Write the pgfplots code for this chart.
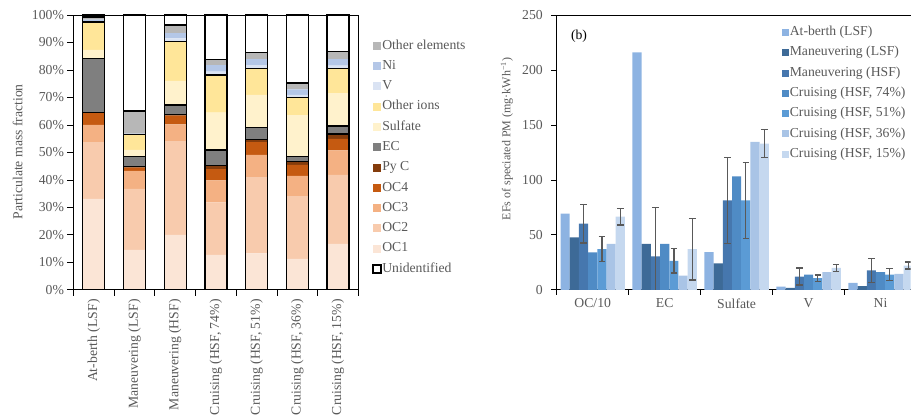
\documentclass[border=0pt]{standalone}
\usepackage{pgfplots}
\pgfplotsset{compat=1.18}
\usepackage{pgfplotstable}
\usepackage{fontspec}
\setmainfont{Liberation Serif}
\newcommand\fontA{\fontsize{13.7}{16}\selectfont}
\newcommand\fontB{\fontsize{12}{14}\selectfont}
\definecolor{txt}{HTML}{595959}
\definecolor{cOCa}{HTML}{FBE5D6}
\definecolor{cOCb}{HTML}{F8CBAD}
\definecolor{cOCc}{HTML}{F4B183}
\definecolor{cOCd}{HTML}{C55A11}
\definecolor{cPyC}{HTML}{843C0C}
\definecolor{cEC}{HTML}{7F7F7F}
\definecolor{cSul}{HTML}{FFF2CC}
\definecolor{cIon}{HTML}{FFE699}
\definecolor{cV}{HTML}{DAE3F3}
\definecolor{cNi}{HTML}{B4C7E7}
\definecolor{cOth}{HTML}{B7B7B7}
\definecolor{bA}{HTML}{8DB3E2}
\definecolor{bB}{HTML}{3D6A97}
\definecolor{bC}{HTML}{4677AE}
\definecolor{bD}{HTML}{4F8BC5}
\definecolor{bE}{HTML}{5B9BD5}
\definecolor{bF}{HTML}{A9C4E6}
\definecolor{bG}{HTML}{C5D8EF}
\definecolor{ebar}{HTML}{595959}

\pgfplotstableread{
x OCa OCb OCc OCd PyC EC Sul Ion V Ni Oth Unid
0 33.1 20.5 6.4 4.3 0.2 19.7 3.1 10.2 0.3 0.5 1.0 0.7
1 14.5 22.2 6.6 1.2 0.3 3.7 2.4 5.5 0.2 0.2 8.3 34.9
2 20.0 33.9 6.3 3.2 0.5 3.4 8.7 14.3 1.2 1.9 3.0 3.6
3 12.7 19.1 8.0 4.1 1.3 5.7 13.6 13.7 1.2 2.4 2.1 16.1
4 13.3 27.5 8.3 4.6 1.1 4.2 11.9 9.7 1.2 2.1 2.4 13.7
5 11.3 22.6 7.6 4.0 1.2 1.8 15.1 6.3 1.0 2.0 2.3 24.8
6 16.7 25.1 8.9 4.2 1.8 2.9 12.0 9.0 1.0 2.3 2.8 13.3
}\fractable

\pgfplotstableread{
x AB MLSF MHSF eMHSF C74 C51 eC51 C36 C15 eC15
0 69.3 47.7 60.2 17.6 34.0 37.0 11.4 41.9 66.5 7.6
1 216.0 41.9 30.4 44.4 41.9 26.4 11.0 13.0 37.0 28.0
2 34.3 24.0 81.4 39.0 103.3 81.4 34.6 134.5 133.1 12.6
3 3.0 1.8 12.1 7.7 13.9 10.6 3.0 16.1 20.0 3.0
4 6.4 3.3 17.6 11.0 16.1 13.9 5.7 14.6 22.1 3.2
}\eftable

\pgfplotsset{
  errstyle/.style={error bars/.cd, y dir=both, y explicit,
    error bar style={color=ebar, line width=1.3pt},
    error mark options={rotate=90, mark size=3.3pt, line width=1.3pt, color=ebar}},
}

\begin{document}
\begin{tikzpicture}
\path (0pt,0pt) rectangle (911pt,419pt);
% ---------------- left: stacked fractions
\begin{axis}[
  at={(73.5pt,129pt)}, anchor=south west,
  scale only axis, width=285pt, height=275pt,
  xmin=-0.5, xmax=6.5, ymin=0, ymax=100,
  xtick={-0.5,0.5,...,6.5}, x tick label as interval,
  xticklabels={At-berth (LSF),Maneuvering (LSF),Maneuvering (HSF),{Cruising (HSF, 74\%)},{Cruising (HSF, 51\%)},{Cruising (HSF, 36\%)},{Cruising (HSF, 15\%)}},
  ytick={0,10,...,100}, yticklabel={\pgfmathprintnumber{\tick}\%},
  /pgf/number format/assume math mode=true,
  tick align=outside, tick pos=left, major tick length=6pt,
  tick style={black, line width=0.8pt},
  axis line style={line width=0.9pt},
  x tick label style={rotate=90, anchor=east, font=\fontA, text=txt},
  y tick label style={font=\fontA, text=txt},
  ylabel={Particulate mass fraction},
  ylabel style={font=\fontA, text=txt, at={(axis description cs:-0.196,0.502)}, anchor=center},
  ybar stacked, bar width=22pt,
]
\addplot[fill=cOCa, draw=none] table[x=x,y=OCa]{\fractable};
\addplot[fill=cOCb, draw=none] table[x=x,y=OCb]{\fractable};
\addplot[fill=cOCc, draw=none] table[x=x,y=OCc]{\fractable};
\addplot[fill=cOCd, draw=none] table[x=x,y=OCd]{\fractable};
\addplot[fill=cPyC, draw=none] table[x=x,y=PyC]{\fractable};
\addplot[fill=cEC, draw=none] table[x=x,y=EC]{\fractable};
\addplot[fill=cSul, draw=none] table[x=x,y=Sul]{\fractable};
\addplot[fill=cIon, draw=none] table[x=x,y=Ion]{\fractable};
\addplot[fill=cV, draw=none] table[x=x,y=V]{\fractable};
\addplot[fill=cNi, draw=none] table[x=x,y=Ni]{\fractable};
\addplot[fill=cOth, draw=none] table[x=x,y=Oth]{\fractable};
\addplot[fill=white, draw=none] table[x=x,y=Unid]{\fractable};
\node[font=\fontA] at (axis cs:0,92.7) {(a)};
\end{axis}
% group outlines
\begin{axis}[
  at={(73.5pt,129pt)}, anchor=south west,
  scale only axis, width=285pt, height=275pt,
  xmin=-0.5, xmax=6.5, ymin=0, ymax=100, hide axis,
  ybar stacked, bar width=22pt,
]
\addplot[draw=black, fill=none, line width=1.3pt] table[x=x, y expr=\thisrow{OCa}+\thisrow{OCb}+\thisrow{OCc}+\thisrow{OCd}+\thisrow{PyC}]{\fractable};
\addplot[draw=black, fill=none, line width=1.3pt] table[x=x, y=EC]{\fractable};
\addplot[draw=black, fill=none, line width=1.3pt] table[x=x, y expr=\thisrow{Sul}+\thisrow{Ion}]{\fractable};
\addplot[draw=black, fill=none, line width=1.3pt] table[x=x, y expr=\thisrow{V}+\thisrow{Ni}+\thisrow{Oth}]{\fractable};
\addplot[draw=black, fill=none, line width=1.3pt] table[x=x, y=Unid]{\fractable};
\end{axis}
% left legend
\begin{axis}[
  at={(73.5pt,129pt)}, anchor=south west,
  scale only axis, width=285pt, height=275pt,
  xmin=0, xmax=1, ymin=0, ymax=1, hide axis,
  legend style={at={(axis description cs:1.049,0.482)}, anchor=west, draw=none, fill=none,
    font=\fontA, text=txt, inner sep=0pt, row sep=6.8pt,
    nodes={inner sep=0.5pt, text height=9.5pt, text depth=3pt}, cells={anchor=west}},
  legend image code/.code={\path[#1] (0pt,-4pt) rectangle (8pt,4pt);},
]
\addlegendimage{fill=cOth, draw=none}\addlegendentry{Other elements}
\addlegendimage{fill=cNi, draw=none}\addlegendentry{Ni}
\addlegendimage{fill=cV, draw=none}\addlegendentry{V}
\addlegendimage{fill=cIon, draw=none}\addlegendentry{Other ions}
\addlegendimage{fill=cSul, draw=none}\addlegendentry{Sulfate}
\addlegendimage{fill=cEC, draw=none}\addlegendentry{EC}
\addlegendimage{fill=cPyC, draw=none}\addlegendentry{Py C}
\addlegendimage{fill=cOCd, draw=none}\addlegendentry{OC4}
\addlegendimage{fill=cOCc, draw=none}\addlegendentry{OC3}
\addlegendimage{fill=cOCb, draw=none}\addlegendentry{OC2}
\addlegendimage{fill=cOCa, draw=none}\addlegendentry{OC1}
\addlegendimage{fill=white, draw=black, line width=1.3pt}\addlegendentry{Unidentified}
\end{axis}
% ---------------- right: emission factors
\begin{axis}[
  at={(557pt,129pt)}, anchor=south west,
  scale only axis, width=354pt, height=275pt,
  xmin=-0.5, xmax=4.4167, ymin=0, ymax=250,
  clip mode=individual,
  axis x line*=box, axis y line*=left,
  xtick={0,1,2,3,4},
  xticklabels={OC/10,EC,Sulfate,V,Ni},
  minor xtick={-0.5,0.5,1.5,2.5,3.5},
  every major x tick/.append style={draw=none},
  ytick={0,50,...,250},
  /pgf/number format/assume math mode=true,
  tick align=outside, xtick pos=bottom, major tick length=5.5pt, minor tick length=5pt,
  tick style={black, line width=0.8pt},
  axis line style={line width=0.9pt},
  x tick label style={font=\fontA, text=txt},
  y tick label style={font=\fontA, text=txt, xshift=-5pt},
  ybar=0pt, bar width=9.2pt,
  legend image code/.code={\path[#1] (0pt,-3.5pt) rectangle (7pt,3.5pt);},
  legend style={at={(axis description cs:0.637,0.715)}, anchor=west, draw=none, fill=none, overlay,
    font=\fontA, text=txt, inner sep=0pt, row sep=6.8pt,
    nodes={inner sep=0.5pt, text height=9.5pt, text depth=3pt}, cells={anchor=west}},
]
\addplot[fill=bA, draw=none] table[x=x,y=AB]{\eftable};
\addlegendentry{At-berth (LSF)}
\addplot[fill=bB, draw=none] table[x=x,y=MLSF]{\eftable};
\addlegendentry{Maneuvering (LSF)}
\addplot[fill=bC, draw=none, errstyle] table[x=x,y=MHSF,y error=eMHSF]{\eftable};
\addlegendentry{Maneuvering (HSF)}
\addplot[fill=bD, draw=none] table[x=x,y=C74]{\eftable};
\addlegendentry{Cruising (HSF, 74\%)}
\addplot[fill=bE, draw=none, errstyle] table[x=x,y=C51,y error=eC51]{\eftable};
\addlegendentry{Cruising (HSF, 51\%)}
\addplot[fill=bF, draw=none] table[x=x,y=C36]{\eftable};
\addlegendentry{Cruising (HSF, 36\%)}
\addplot[fill=bG, draw=none, errstyle] table[x=x,y=C15,y error=eC15]{\eftable};
\addlegendentry{Cruising (HSF, 15\%)}
\node[font=\fontA] at (axis cs:-0.19,231) {(b)};
\node[font=\fontB, text=txt, rotate=90] at (axis description cs:-0.141,0.549) {EFs of speciated PM (mg·kWh\textsuperscript{−1})};
\end{axis}
\end{tikzpicture}
\end{document}
